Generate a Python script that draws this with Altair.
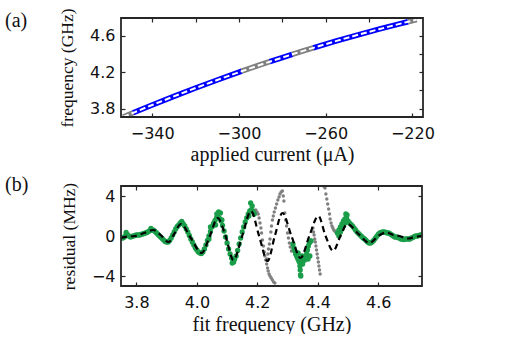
import altair as alt
import pandas as pd

# ---------------- panel (a): frequency vs applied current ----------------
a_current = [-353.4, -348.8,
             -348.8, -340, -330, -320, -310, -298.7,
             -298.7, -290, -285.8,
             -285.8, -280, -275.4,
             -275.4, -270, -265.7,
             -265.7, -255, -245, -235, -225, -222,
             -222, -218]
a_freq = [3.709, 3.755,
          3.755, 3.841, 3.935, 4.027, 4.115, 4.211,
          4.211, 4.282, 4.315,
          4.315, 4.360, 4.396,
          4.396, 4.436, 4.467,
          4.467, 4.543, 4.610, 4.674, 4.735, 4.753,
          4.753, 4.776]
a_segment = [1, 1,
             2, 2, 2, 2, 2, 2,
             3, 3, 3,
             4, 4, 4,
             5, 5, 5,
             6, 6, 6, 6, 6, 6,
             7, 7]
a_kind = ["excluded"] * 2 + ["fit"] * 6 + ["excluded"] * 3 + ["fit"] * 3 + \
         ["excluded"] * 3 + ["fit"] * 6 + ["excluded"] * 2

# ---------------- panel (b): residuals ----------------
fit_f = [3.749, 3.770, 3.795, 3.825, 3.856, 3.880, 3.906, 3.925, 3.947, 3.980,
         4.016, 4.043, 4.069, 4.095, 4.121, 4.150, 4.179, 4.206, 4.234, 4.258,
         4.283, 4.313, 4.343, 4.372, 4.402, 4.426, 4.451, 4.475, 4.498, 4.535,
         4.571, 4.600, 4.627, 4.650, 4.670, 4.700, 4.720, 4.745]
fit_r = [-0.2, -0.05, 0.0, 0.3, 0.6, 0.1, -0.6, 0.2, 1.2, -0.2,
         -1.7, 0.0, 1.8, 0.0, -2.4, 0.0, 2.5, 0.0, -2.5, 0.0,
         2.3, 0.0, -2.2, 0.0, 2.0, 0.0, -1.5, 0.0, 1.2, 0.2,
         -0.7, 0.0, 0.35, 0.1, 0.0, -0.25, -0.1, 0.0]

green_f = [3.750, 3.755, 3.760, 3.765, 3.770, 3.775, 3.780, 3.785, 3.790, 3.795,
           3.800, 3.805, 3.810, 3.815, 3.820, 3.825, 3.830, 3.835, 3.840, 3.845,
           3.850, 3.855, 3.860, 3.865, 3.870, 3.875, 3.880, 3.885, 3.890, 3.895,
           3.900, 3.905, 3.910, 3.915, 3.920, 3.925, 3.930, 3.935, 3.940, 3.945,
           3.950, 3.955, 3.960, 3.965, 3.970, 3.975, 3.980, 3.985, 3.990, 3.995,
           4.000, 4.005, 4.010, 4.015, 4.020, 4.025, 4.030, 4.035, 4.040, 4.045,
           4.050, 4.055, 4.060, 4.065, 4.070, 4.075, 4.080, 4.085, 4.090, 4.095,
           4.100, 4.105, 4.110, 4.115, 4.120, 4.125, 4.130, 4.135, 4.140, 4.145,
           4.150, 4.155, 4.160, 4.165, 4.170, 4.175, 4.180, 4.185, 4.190,
           3.766, 3.848, 3.950, 4.040, 4.045, 4.062, 4.066, 4.072, 4.078, 4.083,
           4.117, 4.122, 4.172, 4.178, 4.183,
           4.318, 4.321, 4.324, 4.327, 4.330, 4.333, 4.336, 4.339, 4.341, 4.342,
           4.343, 4.344, 4.345, 4.348, 4.351, 4.354, 4.357, 4.360, 4.363, 4.366,
           4.369, 4.372, 4.375, 4.335, 4.350, 4.368, 4.374, 4.378,
           4.465, 4.470, 4.475, 4.480, 4.485, 4.490, 4.495, 4.500, 4.505, 4.510,
           4.515, 4.520, 4.525, 4.530, 4.535, 4.540, 4.545, 4.550, 4.555, 4.560,
           4.565, 4.570, 4.575, 4.580, 4.585, 4.590, 4.595, 4.600, 4.605, 4.610,
           4.615, 4.620, 4.625, 4.630, 4.635, 4.640, 4.645, 4.650, 4.655, 4.660,
           4.665, 4.670, 4.675, 4.680, 4.685, 4.690, 4.695, 4.700, 4.705, 4.710,
           4.715, 4.720, 4.725, 4.730, 4.735, 4.740, 4.745,
           4.470, 4.475, 4.480, 4.485, 4.490, 4.493, 4.497]
green_r = [-0.15, -0.2, -0.1, 0.05, 0.15, 0.0, -0.1, -0.05, 0.0, 0.05,
           0.1, 0.1, 0.1, 0.15, 0.2, 0.25, 0.3, 0.35, 0.45, 0.55,
           0.6, 0.6, 0.5, 0.35, 0.2, 0.05, -0.1, -0.25, -0.4, -0.55,
           -0.6, -0.6, -0.45, -0.2, 0.1, 0.4, 0.7, 0.95, 1.1, 1.3,
           1.3, 1.2, 1.0, 0.7, 0.4, 0.05, -0.3, -0.6, -0.9, -1.2,
           -1.4, -1.6, -1.7, -1.75, -1.6, -1.3, -0.9, -0.45, 0.0, 0.45,
           0.9, 1.25, 1.55, 1.8, 1.9, 1.75, 1.5, 1.05, 0.5, -0.1,
           -0.7, -1.3, -1.8, -2.2, -2.4, -2.3, -2.0, -1.45, -0.8, -0.2,
           0.4, 0.9, 1.4, 1.8, 2.2, 2.5, 2.6, 2.5, 2.2,
           0.35, 0.75, 1.45, -0.3, 0.9, 1.1, 2.2, 2.4, 2.3, 1.6,
           -2.7, -2.6, 2.0, 3.3, 3.0,
           -0.8, -1.2, -1.5, -1.8, -2.0, -2.2, -2.4, -2.6, -3.0, -3.4,
           -3.9, -4.0, -2.3, -2.0, -2.5, -2.2, -2.4, -2.0, -1.8, -1.4,
           -1.0, -0.7, -0.5, -1.7, -2.8, -2.3, -2.0, -0.5,
           0.3, 0.6, 0.9, 1.2, 1.5, 1.7, 1.8, 1.5, 1.3, 1.15,
           1.0, 0.8, 0.6, 0.4, 0.25, 0.1, -0.05, -0.2, -0.3, -0.45,
           -0.6, -0.7, -0.7, -0.6, -0.45, -0.25, -0.05, 0.15, 0.3, 0.35,
           0.4, 0.4, 0.35, 0.3, 0.3, 0.2, 0.1, 0.0, -0.1, -0.1,
           -0.15, -0.2, -0.3, -0.3, -0.35, -0.3, -0.3, -0.3, -0.3, -0.2,
           -0.15, -0.05, 0.0, 0.0, 0.05, 0.1, 0.1,
           0.0, 0.4, 0.7, 1.0, 1.3, 2.2, 2.1]

gray_f = [4.195, 4.199, 4.203, 4.206, 4.209, 4.212, 4.214, 4.217, 4.220, 4.223,
          4.225, 4.228, 4.231, 4.234, 4.236, 4.239, 4.242, 4.246, 4.250, 4.254, 4.258,
          4.232, 4.235, 4.237, 4.240, 4.242, 4.245, 4.247, 4.250, 4.253, 4.256,
          4.260, 4.264, 4.268, 4.272, 4.275, 4.279, 4.283, 4.286, 4.288, 4.291,
          4.294, 4.297, 4.300, 4.303, 4.306, 4.309, 4.313,
          4.384, 4.386, 4.388, 4.390, 4.392, 4.394, 4.396, 4.398, 4.400, 4.402,
          4.404, 4.406, 4.408,
          4.421, 4.424, 4.427, 4.430, 4.433, 4.436, 4.439, 4.441, 4.444, 4.447,
          4.450, 4.453, 4.456, 4.460, 4.463]
gray_r = [2.6, 2.4, 2.2, 1.8, 1.3, 0.8, 0.3, -0.4, -1.0, -1.6,
          -2.0, -2.4, -2.8, -3.2, -3.5, -3.8, -4.0, -4.2, -4.4, -4.6, -4.7,
          -2.3, -1.8, -1.3, -0.8, -0.3, 0.4, 1.0, 1.6, 2.0, 2.4,
          2.8, 3.2, 3.6, 3.9, 4.2, 4.4, 4.5, 4.0, 3.5, 2.3,
          1.6, 1.0, 0.3, -0.2, -0.7, -1.1, -1.5,
          0.8, 0.4, 0.1, -0.3, -0.6, -1.0, -1.4, -1.8, -2.2, -2.6,
          -3.0, -3.4, -3.8,
          4.95, 4.8, 4.2, 3.7, 3.2, 2.7, 2.2, 1.7, 1.3, 1.0,
          0.8, 0.6, 0.5, 0.4, 0.3]

BLUE = "#0000ff"
GRAY = "#808080"
GREEN = "#1b9e4a"
AXC = "#262626"
TICKFONT = "DejaVu Sans"
TITLEFONT = "Liberation Serif"


def main_axis(orient, values, title, fmt, label_pad, title_pad, title_size):
    return alt.Axis(orient=orient, values=values, title=title, format=fmt,
                    domain=False, grid=False, ticks=True, tickSize=4, offset=-4,
                    tickColor=AXC, tickWidth=1.2, labelFont=TICKFONT,
                    labelFontSize=16, labelColor="#111", labelPadding=label_pad,
                    titleFont=TITLEFONT, titleFontSize=title_size, minExtent=0,
                    titleFontWeight="normal", titleColor="#111", titlePadding=title_pad)


def side_axis(orient, values):
    return alt.Axis(orient=orient, values=values, title=None, labels=False,
                    domain=False, grid=False, ticks=True, tickSize=4, offset=-4,
                    tickColor=AXC, tickWidth=1.2, minExtent=0, maxExtent=0)


def frame(w, h):
    return alt.Chart(pd.DataFrame({"k": [0]})).mark_rect(
        fill="white", fillOpacity=0, stroke=AXC, strokeWidth=1.8
    ).encode(x=alt.value(0), x2=alt.value(w), y=alt.value(0), y2=alt.value(h))


# ---- panel (a) chart ----
A_W, A_H = 302, 99
df_a = pd.DataFrame({"current": a_current, "freq": a_freq,
                     "segment": a_segment, "kind": a_kind})
df_a_line = df_a.drop_duplicates(subset=["current"]).reset_index(drop=True)

xa_dom = [-354.4, -215.1]
ya_dom = [3.709, 4.794]

a_thick = alt.Chart(df_a).mark_line(strokeWidth=5.5, clip=True).encode(
    x=alt.X("current:Q", scale=alt.Scale(domain=xa_dom, nice=False, zero=False),
            axis=main_axis("bottom", [-340, -300, -260, -220],
                           "applied current (μA)", "d", 8, 3, 20)),
    y=alt.Y("freq:Q", scale=alt.Scale(domain=ya_dom, nice=False, zero=False),
            axis=main_axis("left", [3.8, 4.2, 4.6], "frequency (GHz)", ".1f", 6, 13, 17.5)),
    color=alt.Color("kind:N", scale=alt.Scale(domain=["fit", "excluded"],
                                              range=[BLUE, GRAY]), legend=None),
    detail="segment:N",
)
a_dash = alt.Chart(df_a_line).mark_line(strokeWidth=2, color="white",
                                        strokeDash=[6, 3], clip=True).encode(
    x=alt.X("current:Q", axis=side_axis("top", [-340, -320, -300, -280, -260, -240, -220])),
    y=alt.Y("freq:Q", axis=side_axis("right", [3.8, 4.0, 4.2, 4.4, 4.6])),
)
a_label = alt.Chart(pd.DataFrame({"t": ["(a)"]})).mark_text(
    font=TITLEFONT, fontSize=20, align="left", baseline="middle", color="#111"
).encode(x=alt.value(-116), y=alt.value(3), text="t:N")

chart_a = alt.layer(a_thick, a_dash, frame(A_W, A_H), a_label).properties(
    width=A_W, height=A_H)

# ---- panel (b) chart ----
B_W, B_H = 301, 100
df_fit = pd.DataFrame({"f": fit_f, "r": fit_r})
df_green = pd.DataFrame({"f": green_f, "r": green_r})
df_gray = pd.DataFrame({"f": gray_f, "r": gray_r})

xb_dom = [3.749, 4.745]
yb_dom = [-5, 5]

b_gray = alt.Chart(df_gray).mark_circle(size=12, color=GRAY, opacity=1, clip=True).encode(
    x=alt.X("f:Q", scale=alt.Scale(domain=xb_dom, nice=False, zero=False),
            axis=main_axis("bottom", [3.8, 4.0, 4.2, 4.4, 4.6],
                           "fit frequency (GHz)", ".1f", 8, 4, 20)),
    y=alt.Y("r:Q", scale=alt.Scale(domain=yb_dom, nice=False, zero=False),
            axis=main_axis("left", [-4, 0, 4], "residual (MHz)", "d", 6, 13, 17.5)),
)
b_green = alt.Chart(df_green).mark_circle(size=28, color=GREEN, opacity=1, clip=True).encode(
    x=alt.X("f:Q", axis=None),
    y=alt.Y("r:Q", axis=None),
)
b_fit = alt.Chart(df_fit).mark_line(color="black", strokeWidth=2.2, strokeDash=[6, 4],
                                    interpolate="monotone", clip=True).encode(
    x=alt.X("f:Q", axis=side_axis("top", [3.8, 4.0, 4.2, 4.4, 4.6])),
    y=alt.Y("r:Q", axis=side_axis("right", [-4, 0, 4])),
)
b_label = alt.Chart(pd.DataFrame({"t": ["(b)"]})).mark_text(
    font=TITLEFONT, fontSize=20, align="left", baseline="middle", color="#111"
).encode(x=alt.value(-116), y=alt.value(-1), text="t:N")

chart_b = alt.layer(b_gray, b_green, b_fit, frame(B_W, B_H), b_label).properties(
    width=B_W, height=B_H)

chart = alt.vconcat(chart_a, chart_b, spacing=11).properties(
    padding={"left": 5, "top": 7, "right": 5, "bottom": 0}
).configure(background="white").configure_view(stroke=None)

chart.save("out.html", embed_options={"renderer": "svg", "actions": False})
